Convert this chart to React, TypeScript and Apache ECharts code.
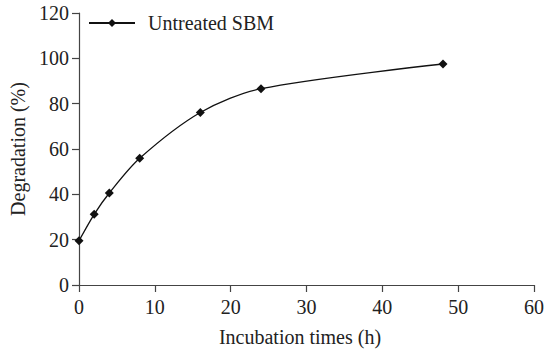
import React, { useEffect, useRef } from "react";
import * as echarts from "echarts";

const times = [0, 2, 4, 8, 16, 24, 48];
const degradation = [19.5, 31.2, 40.6, 55.9, 76.1, 86.6, 97.5];
const seriesName = "Untreated SBM";
const xTitle = "Incubation times (h)";
const yTitle = "Degradation (%)";

export default function App() {
  const ref = useRef<HTMLDivElement>(null);
  useEffect(() => {
    if (!ref.current) return;
    const chart = echarts.init(ref.current, null, { renderer: "svg" });
    const font = "Liberation Serif";
    const axisColor = "#444";
    const txt = { fontFamily: font, fontSize: 20, color: "#222" };
    chart.setOption({
      animation: false,
      backgroundColor: "#fff",
      textStyle: { fontFamily: font },
      grid: { left: 79, right: 12, top: 13, bottom: 65, containLabel: false },
      legend: {
        left: 83,
        top: 8,
        itemWidth: 46,
        itemHeight: 10,
        textStyle: { ...txt, padding: [0, 0, 0, 8] },
        data: [seriesName],
      },
      xAxis: {
        type: "value",
        min: 0,
        max: 60,
        interval: 10,
        name: xTitle,
        nameLocation: "middle",
        nameGap: 42,
        nameTextStyle: { ...txt, padding: [0, 13, 0, 0] },
        axisLine: { show: true, onZero: false, lineStyle: { color: axisColor, width: 1.2 } },
        axisTick: { show: true, inside: false, length: 7, lineStyle: { color: axisColor, width: 1.2 } },
        axisLabel: { ...txt, margin: 12 },
        splitLine: { show: false },
      },
      yAxis: {
        type: "value",
        min: 0,
        max: 120,
        interval: 20,
        name: yTitle,
        nameLocation: "middle",
        nameGap: 51,
        nameTextStyle: { ...txt },
        axisLine: { show: true, lineStyle: { color: axisColor, width: 1.2 } },
        axisTick: { show: true, inside: false, length: 7, lineStyle: { color: axisColor, width: 1.2 } },
        axisLabel: { ...txt, margin: 10 },
        splitLine: { show: false },
      },
      series: [
        {
          name: seriesName,
          type: "line",
          data: times.map((t, i) => [t, degradation[i]]),
          smooth: 0.3,
          symbol: "diamond",
          symbolSize: 9,
          showAllSymbol: true,
          lineStyle: { color: "#111", width: 1.3 },
          itemStyle: { color: "#111" },
        },
      ],
    });
    return () => chart.dispose();
  }, []);
  return <div ref={ref} style={{ width: 547, height: 352, position: "absolute", left: 0, top: 0 }} />;
}
